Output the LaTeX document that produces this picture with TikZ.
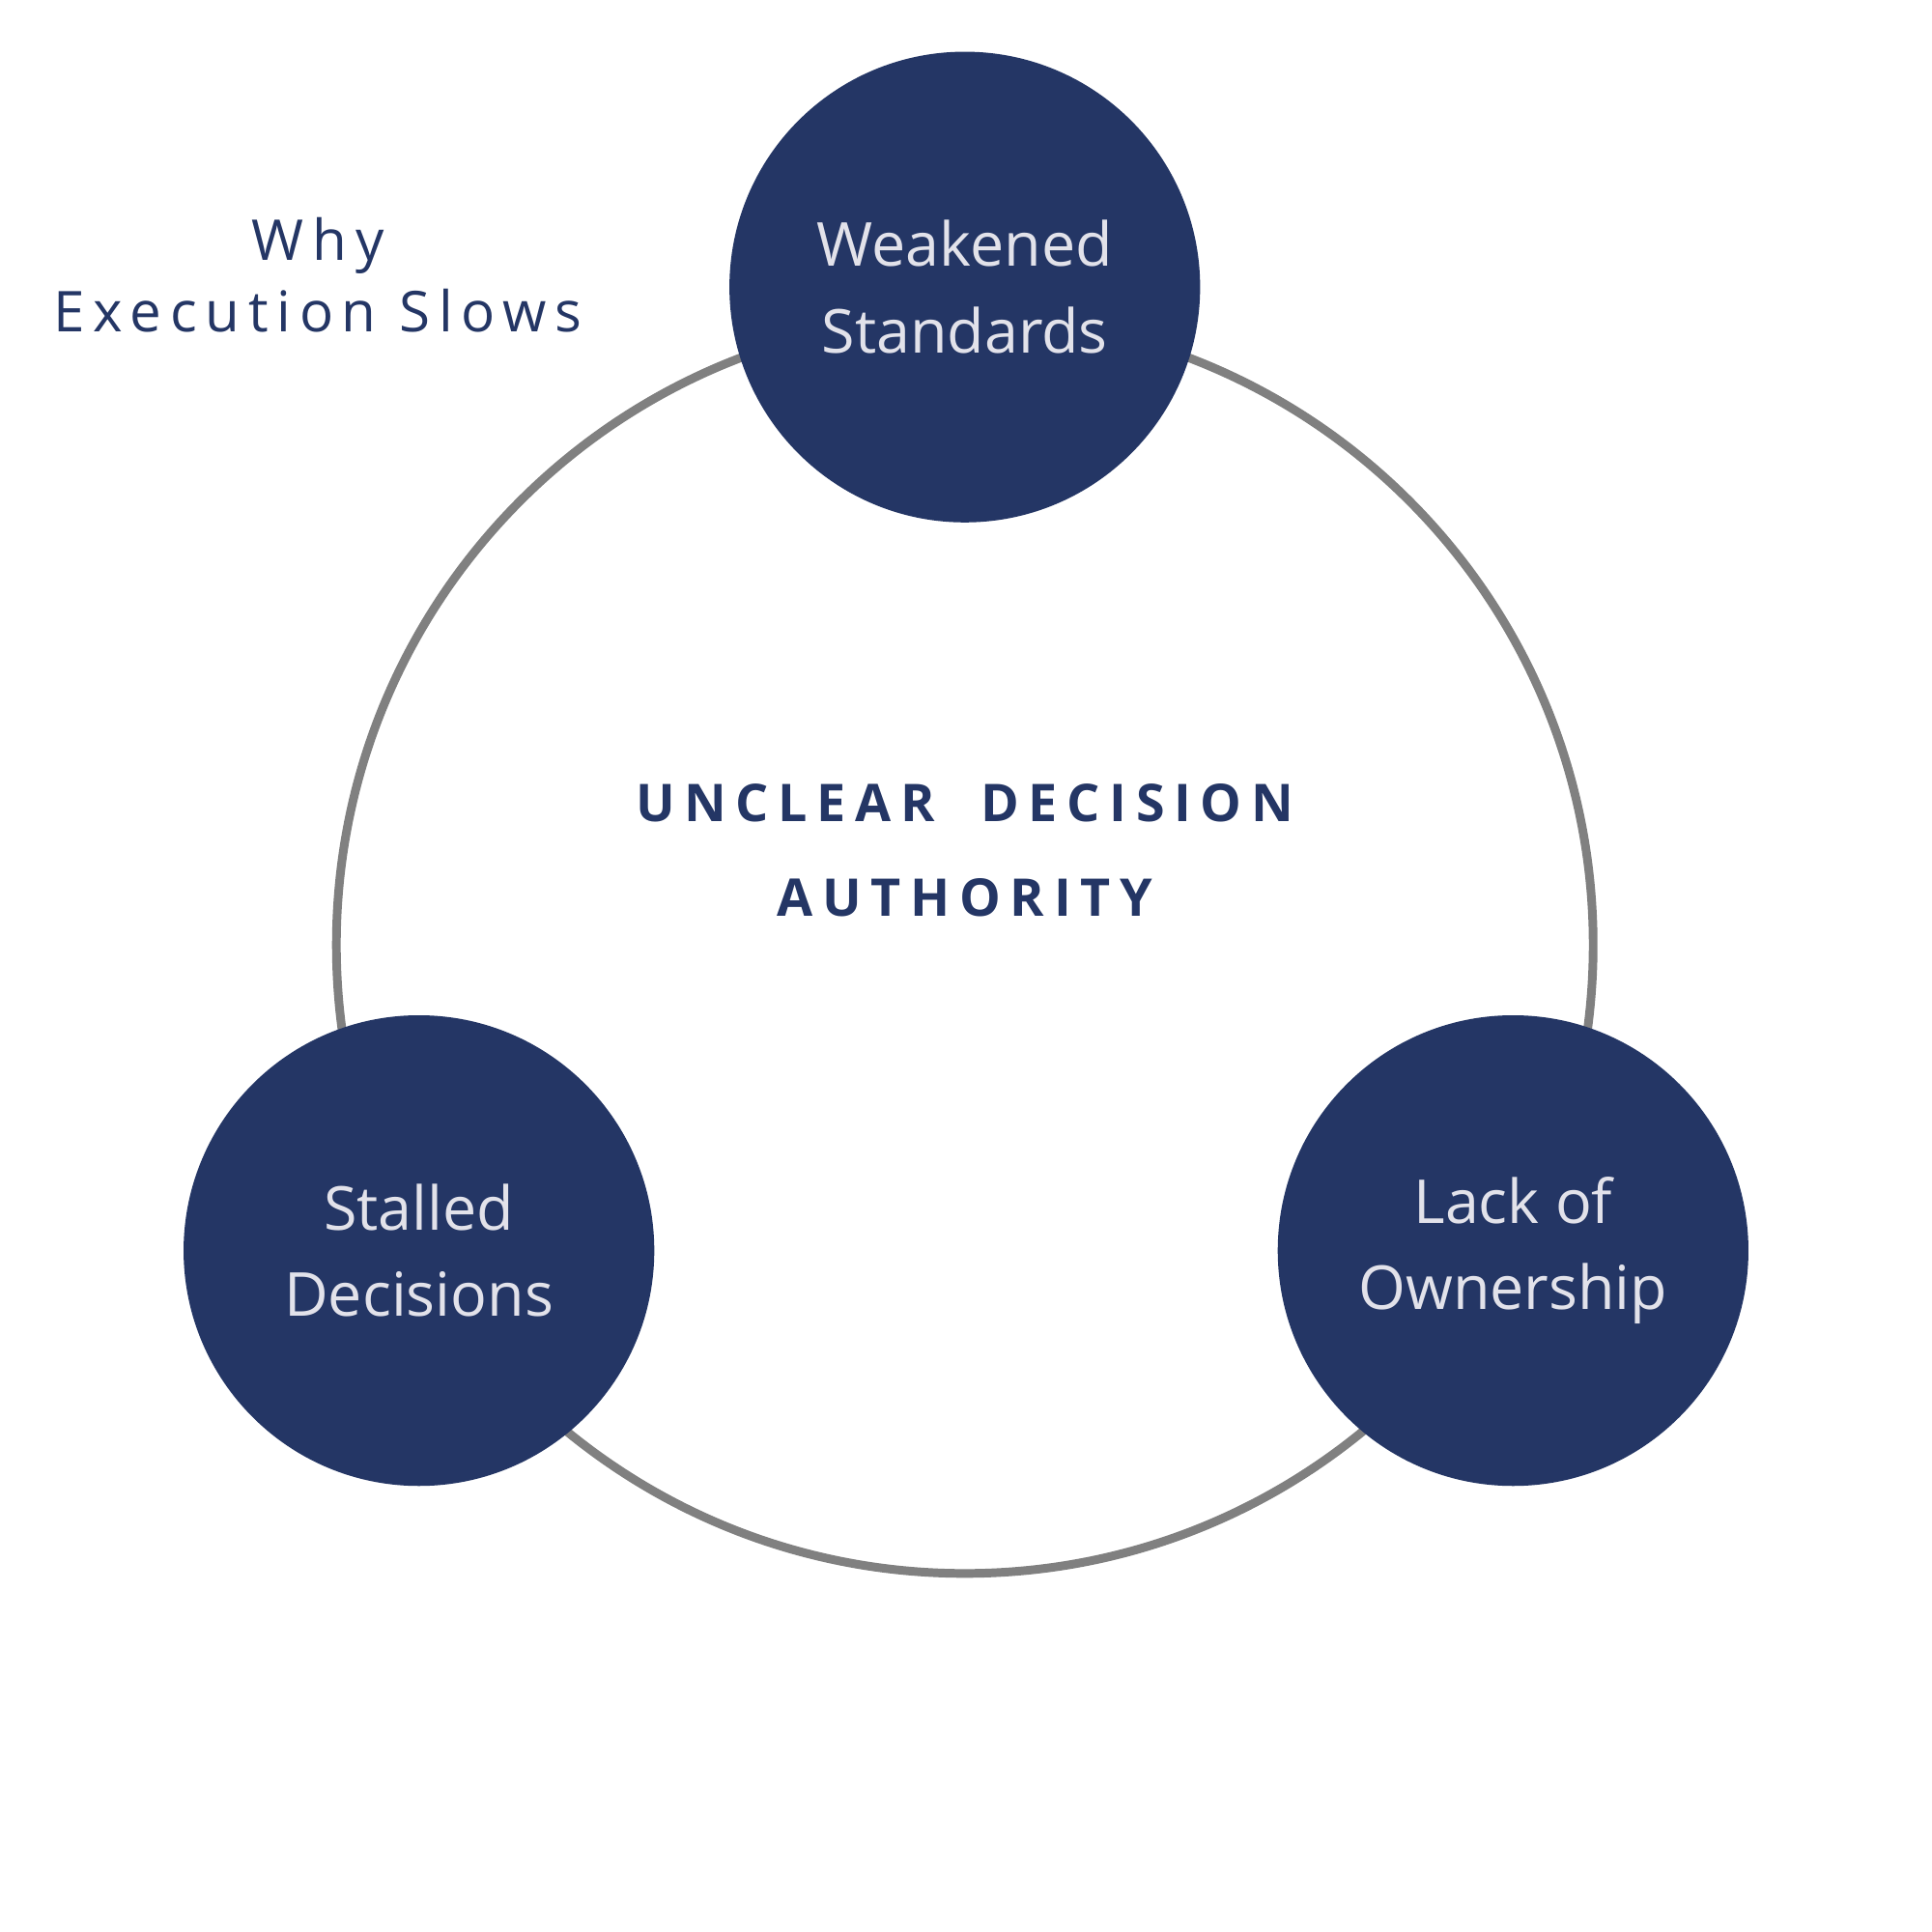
\documentclass[tikz,border=0pt]{standalone}
\usepackage{fontspec}
\setmainfont{Open Sans}
\newfontfamily\spacedfont[LetterSpace=15]{Open Sans}
\newfontfamily\boldspaced[LetterSpace=18]{Open Sans Bold}
\definecolor{navy}{HTML}{243665}
\definecolor{ltxt}{HTML}{E2E2EA}
\definecolor{ring}{HTML}{808080}
\begin{document}
\begin{tikzpicture}[
  bubble/.style={circle,fill=navy,minimum size=3.82cm,inner sep=0pt,text=ltxt,align=center,font=\fontsize{14}{20}\selectfont}]
\useasboundingbox (0,0) rectangle (15.68,15.68);
\fill[white] (0,0) rectangle (15.68,15.68);
\coordinate (c) at (7.83,8.01);
\draw[ring,line width=2pt] (c) circle (5.10);
\node[bubble] (top) at (7.83,13.35) {Weakened\\Standards};
\node[bubble] (left) at (3.40,5.53) {Stalled\\Decisions};
\node[bubble] (right) at (12.28,5.53) {Lack of\\Ownership};
\node[text=navy,align=center,font=\spacedfont\fontsize{13}{16.5}\selectfont] (title) at (2.58,13.45) {Why\\Execution Slows};
\node[text=navy,align=center,font=\boldspaced\fontsize{12}{22}\selectfont] (mid) at (7.83,8.78) {UNCLEAR\ \ DECISION\\AUTHORITY};
\end{tikzpicture}
\end{document}
